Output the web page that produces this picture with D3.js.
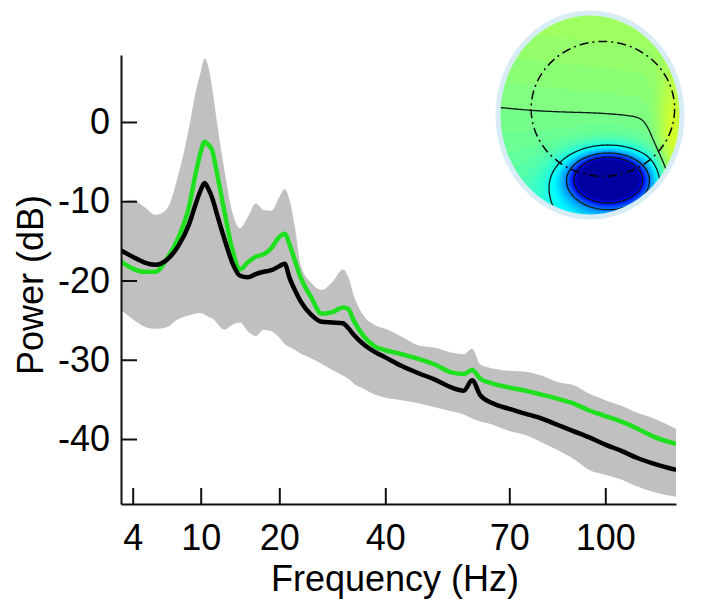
<!DOCTYPE html>
<html>
<head>
<meta charset="utf-8">
<script src="https://cdn.jsdelivr.net/npm/d3@7"></script>
<style>
  body { margin: 0; background: #fff; }
  svg { display: block; font-family: "Liberation Sans", Arial, Helvetica, sans-serif; }
  .axis text { font-size: 36px; fill: #000; }
  .axis path, .axis line { stroke: #111; stroke-width: 2px; }
  .label { font-size: 36px; fill: #000; }
</style>
</head>
<body>
<svg id="chart" width="702" height="599"></svg>
<script>
// spectrum values (Hz / dB)
var freqs = [3, 4, 5, 6, 7, 8, 9, 9.5, 10, 10.5, 11, 11.5, 12, 13, 14, 15, 16, 17, 18, 19, 20, 21, 22, 23, 24,
  26, 28, 30, 32, 33, 34, 36, 38, 40, 44, 48, 52, 56, 59, 61, 63, 66, 70, 75, 80, 85, 90, 95, 100, 105, 110, 115, 122];

var upperBand = [-10.1, -9.8, -10.7, -11.7, -11.0, -6.8, -0.5, 3.4, 6.3, 8.0, 6.9, 4.0, 0.5,
  -6.0, -11.3, -13.4, -12.0, -10.3, -11.1, -11.2, -9.5, -8.5, -10.0, -13.5, -18.0,
  -20.3, -21.2, -20.2, -18.6, -19.5, -21.8, -24.5, -25.6, -26.1,
  -27.1, -28.2, -28.5, -29.1, -29.3, -28.6, -30.6, -31.1, -31.4,
  -31.5, -32.0, -32.8, -33.2, -34.3, -35.1, -35.8, -36.7, -37.4, -38.7];

var lowerBand = [-23.7, -24.9, -25.8, -26.1, -25.9, -24.9, -24.4, -24.2, -24.1, -24.3, -24.6, -24.8, -25.3,
  -26.2, -25.6, -25.3, -26.4, -27.0, -26.2, -26.4, -27.2, -28.0, -28.4, -28.8, -29.2,
  -29.8, -30.5, -31.3, -32.0, -32.4, -33.0, -33.7, -34.4, -34.8,
  -35.1, -35.5, -36.0, -36.5, -36.9, -37.4, -37.8, -38.2, -39.0,
  -39.5, -40.4, -41.4, -42.5, -43.9, -44.5, -45.1, -46.0, -46.7, -47.3];

var greenPower = [-17.6, -18.5, -18.9, -18.9, -17.3, -14.7, -10.5, -6.9, -3.8, -2.5, -2.9, -3.7, -6.1,
  -11.2, -16.0, -18.6, -17.7, -17.0, -16.7, -15.9, -14.5, -14.1, -15.6, -17.6, -19.6,
  -22.1, -24.2, -24.0, -23.4, -23.6, -25.0, -27.1, -28.3, -28.8,
  -29.3, -29.9, -30.6, -31.6, -31.8, -31.3, -32.4, -33.0, -33.5,
  -33.9, -34.4, -34.9, -35.5, -36.4, -37.1, -37.8, -38.7, -39.7, -40.6];

var blackPower = [-16.2, -17.0, -17.7, -18.0, -17.4, -15.7, -12.8, -10.6, -8.6, -7.7, -8.5, -9.7, -11.4,
  -14.7, -17.7, -19.4, -19.6, -19.2, -18.9, -18.7, -18.2, -17.9, -19.8, -21.3, -22.6,
  -24.3, -25.2, -25.3, -25.4, -26.0, -26.8, -28.1, -29.0, -29.7,
  -30.8, -31.7, -32.5, -33.5, -33.9, -32.6, -34.5, -35.5, -36.2,
  -36.8, -37.4, -38.2, -39.0, -39.8, -40.7, -41.5, -42.4, -43.1, -43.9];

var xTicks = [4, 10, 20, 40, 70, 100];
var yTicks = [0, -10, -20, -30, -40];

// scalp map: base level, tilt (u right, v down) and gaussian bumps [u, v, spreadU, spreadV, amp]
var topoBase = [0.501, 0.004, -0.04];
var topoBumps = [
  [0.9, 0.35, 0.12, 0.5, 0.1],
  [0.2, 0.62, 0.24, 0.14, -0.9],
  [0.2, 0.8, 0.45, 0.28, -0.15]
];
var topoLevels = [0.5, 0.40, 0.25, 0.12];
var headOutline = [0.14, -0.06, 0.78];

var svg = d3.select("#chart");

var x = d3.scaleLinear()
  .domain([3, 4, 10, 20, 40, 70, 100, 122])
  .range([121, 132.7, 200.7, 279.3, 385.3, 509.3, 605.3, 676]);

var y = d3.scaleLinear()
  .domain([-48.2, 8.45])
  .range([504, 55]);

var rows = freqs.map(function(f, i) {
  return { f: f, hi: upperBand[i], lo: lowerBand[i], g: greenPower[i], k: blackPower[i] };
});

svg.append("clipPath").attr("id", "plotClip")
  .append("rect")
  .attr("x", x.range()[0]).attr("y", y.range()[1])
  .attr("width", x.range()[7] - x.range()[0])
  .attr("height", y.range()[0] - y.range()[1]);

var plot = svg.append("g").attr("clip-path", "url(#plotClip)");

var band = d3.area()
  .curve(d3.curveMonotoneX)
  .x(function(d) { return x(d.f); })
  .y0(function(d) { return y(d.lo); })
  .y1(function(d) { return y(d.hi); });

plot.append("path")
  .datum(rows)
  .attr("d", band)
  .attr("fill", "#c0c0c0");

var greenLine = d3.line()
  .curve(d3.curveMonotoneX)
  .x(function(d) { return x(d.f); })
  .y(function(d) { return y(d.g); });

var blackLine = d3.line()
  .curve(d3.curveMonotoneX)
  .x(function(d) { return x(d.f); })
  .y(function(d) { return y(d.k); });

plot.append("path")
  .datum(rows)
  .attr("d", greenLine)
  .attr("fill", "none")
  .attr("stroke", "#1fe01f")
  .attr("stroke-width", 4.5)
  .attr("stroke-linejoin", "round");

plot.append("path")
  .datum(rows)
  .attr("d", blackLine)
  .attr("fill", "none")
  .attr("stroke", "#000")
  .attr("stroke-width", 4.5)
  .attr("stroke-linejoin", "round");

svg.append("g")
  .attr("class", "axis")
  .attr("transform", "translate(0," + y.range()[0] + ")")
  .call(d3.axisBottom(x).tickValues(xTicks).tickSizeInner(-16).tickSizeOuter(0)
    .tickPadding(20).tickFormat(function(d) { return String(d); }));

svg.append("g")
  .attr("class", "axis")
  .attr("transform", "translate(" + x.range()[0] + ",0)")
  .call(d3.axisLeft(y).tickValues(yTicks).tickSizeInner(-16).tickSizeOuter(0)
    .tickPadding(11).tickFormat(function(d) { return String(d); }));

svg.append("text")
  .attr("class", "label")
  .attr("x", 395).attr("y", 591)
  .attr("text-anchor", "middle")
  .text("Frequency (Hz)");

svg.append("text")
  .attr("class", "label")
  .attr("transform", "translate(43,285) rotate(-90)")
  .attr("text-anchor", "middle")
  .text("Power (dB)");

// ---- scalp map inset ----
var cx = 590, cy = 115, rx = 92, ry = 102;
var tu = d3.scaleLinear().domain([-1, 1]).range([cx - rx, cx + rx]);
var tv = d3.scaleLinear().domain([-1, 1]).range([cy - ry, cy + ry]);

var n = 100;
var values = new Array(n * n);
for (var j = 0; j < n; j++) {
  for (var i = 0; i < n; i++) {
    var u = (i + 0.5) / n * 2 - 1, v = (j + 0.5) / n * 2 - 1;
    var val = topoBase[0] + topoBase[1] * u + topoBase[2] * v;
    topoBumps.forEach(function(b) {
      var du = (u - b[0]) / b[2], dv = (v - b[1]) / b[3];
      val += b[4] * Math.exp(-(du * du + dv * dv) / 2);
    });
    values[j * n + i] = Math.max(0.02, val);
  }
}

var jet = d3.scaleLinear()
  .domain([0, 0.125, 0.375, 0.625, 0.875, 1])
  .range(["#00008f", "#0000ff", "#00ffff", "#ffff00", "#ff0000", "#800000"])
  .clamp(true);

var gridPath = d3.geoPath(d3.geoTransform({
  point: function(gx, gy) { this.stream.point(tu(gx / n * 2 - 1), tv(gy / n * 2 - 1)); }
}));

svg.append("clipPath").attr("id", "headClip")
  .append("ellipse")
  .attr("cx", cx).attr("cy", cy).attr("rx", rx).attr("ry", ry);

var topo = svg.append("g").attr("clip-path", "url(#headClip)");

topo.selectAll("path.fill")
  .data(d3.contours().size([n, n]).thresholds(d3.range(0, 1, 0.01))(values))
  .enter().append("path")
  .attr("class", "fill")
  .attr("d", gridPath)
  .attr("fill", function(d) { return jet(d.value); });

topo.selectAll("path.iso")
  .data(d3.contours().size([n, n]).thresholds(topoLevels)(values))
  .enter().append("path")
  .attr("class", "iso")
  .attr("d", gridPath)
  .attr("fill", "none")
  .attr("stroke", "#0a1a14")
  .attr("stroke-width", 1.3);

topo.append("ellipse")
  .attr("cx", tu(headOutline[0])).attr("cy", tv(headOutline[1]))
  .attr("rx", tu(headOutline[2]) - tu(0)).attr("ry", (tu(headOutline[2]) - tu(0)) * 0.94)
  .attr("fill", "none")
  .attr("stroke", "#000")
  .attr("stroke-width", 1.5)
  .attr("stroke-dasharray", "9,4,2,4");

svg.append("ellipse")
  .attr("cx", cx).attr("cy", cy).attr("rx", rx).attr("ry", ry)
  .attr("fill", "none")
  .attr("stroke", "#d8ecf6")
  .attr("stroke-width", 5);
</script>
</body>
</html>
